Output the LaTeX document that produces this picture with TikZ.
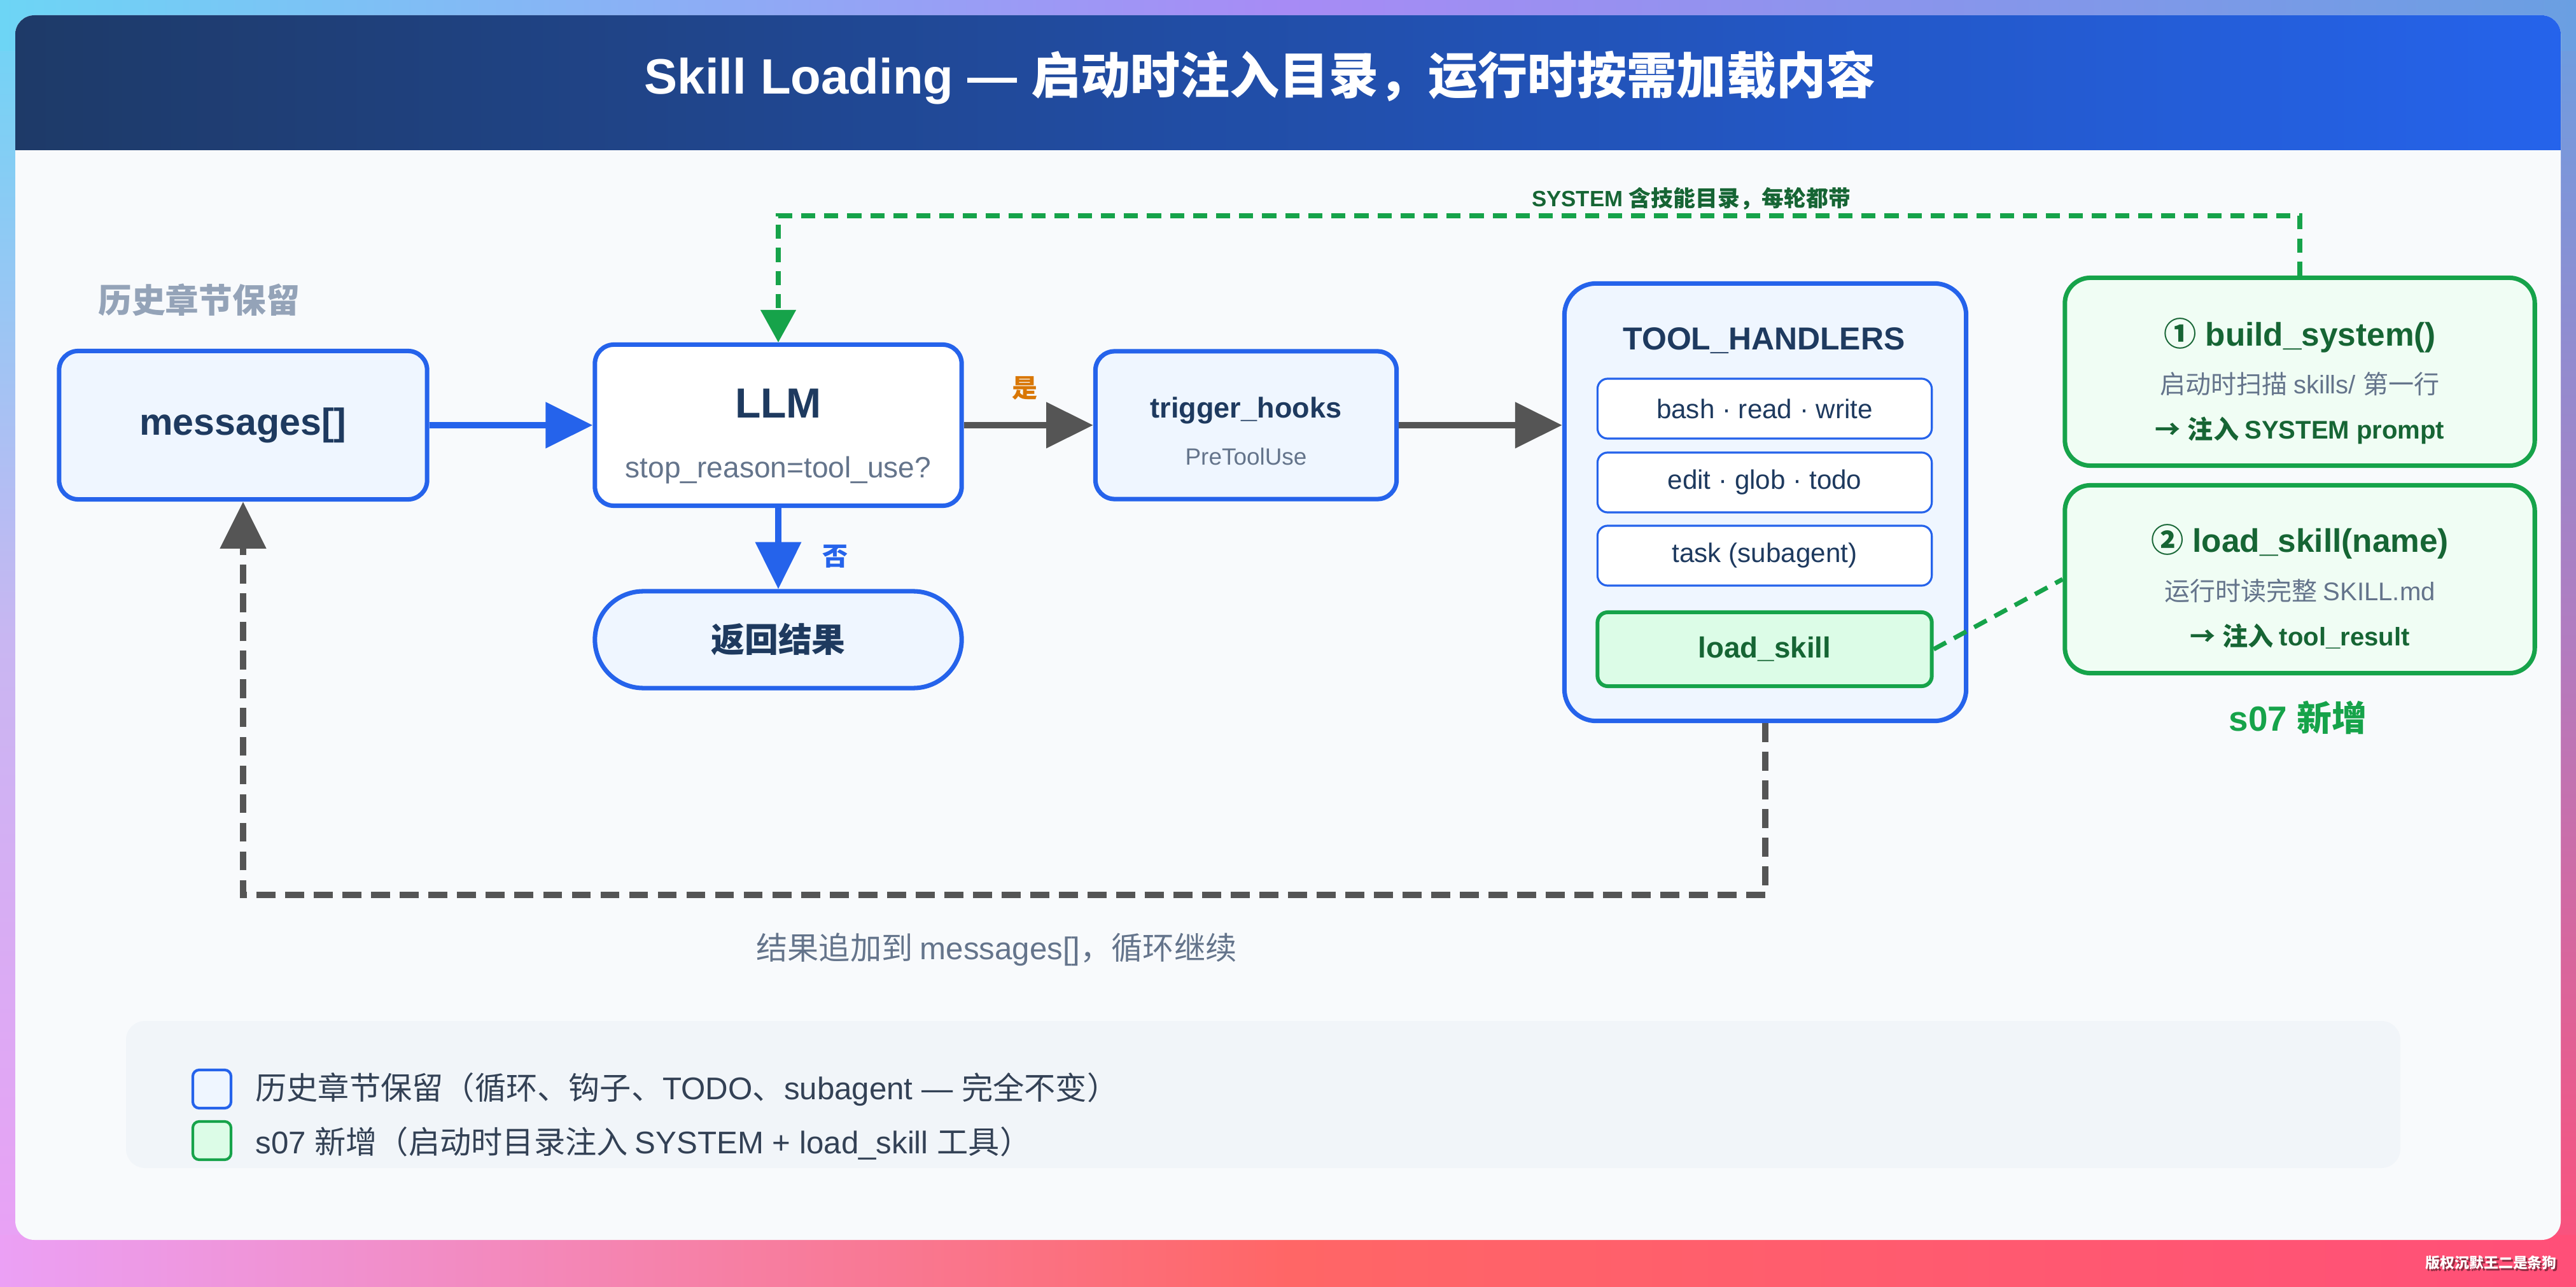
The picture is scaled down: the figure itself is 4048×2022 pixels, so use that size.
\documentclass[tikz,border=0pt]{standalone}
\usepackage{fontspec}
\setmainfont{Liberation Sans}
\newfontfamily\zh{Noto Sans CJK SC}
\usetikzlibrary{arrows.meta}

\definecolor{hdleft}{HTML}{1E3A68}
\definecolor{hdright}{HTML}{2563EB}
\definecolor{oldblue}{HTML}{2563EB}
\definecolor{oldfill}{HTML}{EFF6FF}
\definecolor{navy}{HTML}{1E3A5F}
\definecolor{slate}{HTML}{64748B}
\definecolor{mist}{HTML}{94A3B8}
\definecolor{newgreen}{HTML}{16A34A}
\definecolor{newfill}{HTML}{F0FDF4}
\definecolor{newfilldeep}{HTML}{DCFCE7}
\definecolor{deepgreen}{HTML}{166534}
\definecolor{yesorange}{HTML}{D97706}
\definecolor{loopgray}{HTML}{555555}
\definecolor{cardbg}{HTML}{F8FAFC}
\definecolor{legendbg}{HTML}{F1F5F9}
\definecolor{legendtext}{HTML}{334155}
\definecolor{bgcyan}{HTML}{6DD5F5}
\definecolor{bgpurple}{HTML}{A78BF5}
\definecolor{bgblue}{HTML}{6A9FE2}
\definecolor{bglav}{HTML}{C9B6F2}
\definecolor{bgmauve}{HTML}{B27CC0}
\definecolor{bgpink}{HTML}{EBA0F5}
\definecolor{bgcoral}{HTML}{FF6666}
\definecolor{bgred}{HTML}{FF4F78}

\begin{document}
\begin{tikzpicture}[x=0.01cm, y=-0.01cm,
    oldbox/.style={draw=oldblue, line width=2pt, fill=oldfill, rounded corners=0.3cm},
    newbox/.style={draw=newgreen, line width=2pt, fill=newfill, rounded corners=0.4cm,
        minimum width=7.38cm, minimum height=2.95cm},
    toolrow/.style={draw=oldblue, line width=0.9pt, fill=white, rounded corners=0.16cm,
        minimum width=5.25cm, minimum height=0.94cm, text=navy, font=\fontsize{12}{14}\selectfont},
    keybox/.style={line width=1.2pt, rounded corners=0.1cm, minimum size=0.6cm},
    flow/.style={line width=2.8pt, -{Triangle[length=21pt, width=20pt]}},
    back/.style={loopgray, line width=3pt, dash pattern=on 8.5pt off 4.3pt,
        -{Triangle[length=21pt, width=20pt]}},
    sysline/.style={newgreen, line width=2.2pt, dash pattern=on 6.3pt off 4pt}]
            \useasboundingbox (0,0) rectangle (4048,2022);

            \shade[top color=bgcyan, bottom color=bgpink, middle color=bglav] (0,0) rectangle (80,2022);
            \shade[top color=bgblue, bottom color=bgred, middle color=bgmauve] (3968,0) rectangle (4048,2022);
            \shade[left color=bgcyan, right color=bgblue, middle color=bgpurple] (0,0) rectangle (4048,80);
            \shade[left color=bgpink, right color=bgred, middle color=bgcoral] (0,1940) rectangle (4048,2022);

            \fill[cardbg, rounded corners=0.3cm] (24,24) rectangle (4024,1948);
            \begin{scope}
                \clip[rounded corners=0.3cm] (24,24) rectangle (4024,1948);
                \shade[left color=hdleft, right color=hdright] (24,24) rectangle (4024,236);
            \end{scope}
            \node[font=\fontsize{22.2}{26}\selectfont\bfseries, text=white] (title) at (1980,122)
                {Skill Loading — {\zh 启动时注入目录，运行时按需加载内容}};

            \node[anchor=west, font=\zh\fontsize{15}{18}\selectfont\bfseries, text=mist] (oldtag) at (142,471) {历史章节保留};

            \node[oldbox, minimum width=5.78cm, minimum height=2.33cm,
                font=\fontsize{16.8}{20}\selectfont\bfseries, text=navy] (msg) at (382,668) {messages[]};

            \node[oldbox, fill=white, minimum width=5.76cm, minimum height=2.53cm] (llm) at (1223,668) {};
            \node[font=\fontsize{18.8}{22}\selectfont\bfseries, text=navy] (llmname) at (1223,634) {LLM};
            \node[font=\fontsize{13.1}{16}\selectfont, text=slate] (llmask) at (1223,739) {stop\_reason=tool\_use?};

            \node[oldbox, rounded corners=0.76cm, minimum width=5.76cm, minimum height=1.52cm,
                font=\zh\fontsize{15}{18}\selectfont\bfseries, text=navy] (ret) at (1223,1005) {返回结果};

            \node[oldbox, minimum width=4.73cm, minimum height=2.32cm] (trig) at (1958,668) {};
            \node[font=\fontsize{12.8}{15}\selectfont\bfseries, text=navy] (trigname) at (1958,645) {trigger\_hooks};
            \node[font=\fontsize{10.5}{13}\selectfont, text=slate] (trigwhen) at (1958,717) {PreToolUse};

            \node[oldbox, rounded corners=0.5cm, minimum width=6.31cm, minimum height=6.87cm] (tools) at (2774,789) {};
            \node[font=\fontsize{14.2}{17}\selectfont\bfseries, text=navy] (toolsname) at (2772,535) {TOOL\_HANDLERS};
            \node[toolrow] (rowa) at (2773,642) {bash · read · write};
            \node[toolrow] (rowb) at (2773,758) {edit · glob · todo};
            \node[toolrow] (rowc) at (2773,873) {task (subagent)};
            \node[toolrow, draw=newgreen, line width=1.7pt, fill=newfilldeep, minimum height=1.16cm, text=deepgreen,
                font=\fontsize{13}{15}\selectfont\bfseries] (rowskill) at (2773,1020) {load\_skill};

            \node[newbox] (build) at (3614,584) {};
            \node[font=\fontsize{14.6}{17}\selectfont\bfseries, text=deepgreen] (buildname) at (3614,527) {{\zh ①} build\_system()};
            \node[font=\fontsize{11.4}{14}\selectfont, text=slate] (buildwhat) at (3614,603) {{\zh 启动时扫描 }skills/ {\zh 第一行}};
            \node[font=\fontsize{11.4}{14}\selectfont\bfseries, text=deepgreen] (buildto) at (3614,676) {{\zh →} {\zh 注入 }SYSTEM prompt};

            \node[newbox] (skload) at (3614,910) {};
            \node[font=\fontsize{14.6}{17}\selectfont\bfseries, text=deepgreen] (skloadname) at (3614,851) {{\zh ②} load\_skill(name)};
            \node[font=\fontsize{11.4}{14}\selectfont, text=slate] (skloadwhat) at (3614,928) {{\zh 运行时读完整 }SKILL.md};
            \node[font=\fontsize{11.4}{14}\selectfont\bfseries, text=deepgreen] (skloadto) at (3614,1000) {{\zh →} {\zh 注入 }tool\_result};

            \node[font=\fontsize{15.6}{18}\selectfont\bfseries, text=newgreen] (newtag) at (3611,1127) {s07 {\zh 新增}};

            \draw[flow, oldblue] (msg.east) -- (llm.west);
            \draw[flow, oldblue] (llm.south) -- (ret.north);
            \draw[flow, loopgray] (llm.east) -- (trig.west);
            \draw[flow, loopgray] (trig.east) -- (trig.east -| tools.west);
            \node[font=\zh\fontsize{11.4}{14}\selectfont\bfseries, text=yesorange] (yes) at (1611,610) {是};
            \node[font=\zh\fontsize{11.4}{14}\selectfont\bfseries, text=oldblue] (no) at (1313,874) {否};

            \draw[back] (tools.south) -- ++(0,270) -| (msg.south);
            \node[font=\fontsize{14}{17}\selectfont, text=slate] (loopnote) at (1566,1492)
                {{\zh 结果追加到 }messages[]{\zh ，循环继续}};

            \draw[sysline, -{Triangle[length=14.5pt, width=15.4pt]}] (build.north) -- ++(0,-94)
                -| node[pos=0.2, above, yshift=-2pt, font=\fontsize{9.9}{12}\selectfont\bfseries, text=deepgreen] (sysnote)
                {SYSTEM {\zh 含技能目录，每轮都带}} (llm.north);
            \draw[sysline, line width=2pt] (rowskill.east) -- (skload.west);

            \fill[legendbg, rounded corners=0.3cm] (198,1604) rectangle (3772,1835);
            \node[keybox, draw=oldblue, fill=oldfill] (keyold) at (333,1711) {};
            \node[keybox, draw=newgreen, fill=newfilldeep] (keynew) at (333,1792) {};
            \node[anchor=west, font=\fontsize{14}{17}\selectfont, text=legendtext] (keyoldtext) at (389,1712)
                {{\zh 历史章节保留（循环、钩子、}TODO{\zh 、}subagent — {\zh 完全不变）}};
            \node[anchor=west, font=\fontsize{14}{17}\selectfont, text=legendtext] (keynewtext) at (389,1796)
                {s07 {\zh 新增（启动时目录注入 }SYSTEM + load\_skill {\zh 工具）}};

            \node[anchor=east, font=\zh\fontsize{6.5}{8}\selectfont\bfseries, text=black, opacity=0.45] (wmshade) at (4033,1987) {版权沉默王二是条狗};
            \node[anchor=east, font=\zh\fontsize{6.5}{8}\selectfont\bfseries, text=white] (wm) at (4030,1984) {版权沉默王二是条狗};
\end{tikzpicture}
\end{document}
